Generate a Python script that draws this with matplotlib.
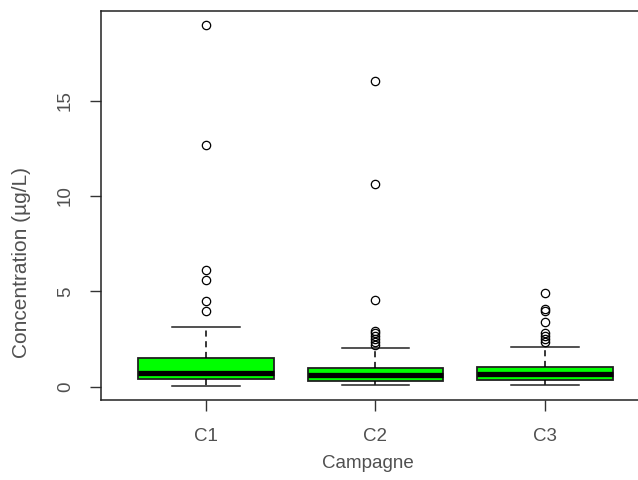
import matplotlib
matplotlib.use("Agg")
import matplotlib.pyplot as plt

# ======================
# DATA
# ======================
campagnes = ["C1", "C2", "C3"]
whis_lo = [0.04, 0.09, 0.09]
q1 = [0.42, 0.30, 0.37]
medians = [0.74, 0.62, 0.65]
q3 = [1.49, 1.00, 1.05]
whis_hi = [3.11, 2.02, 2.07]
outliers_c1 = [18.95, 12.67, 6.13, 5.58, 4.49, 3.97]
outliers_c2 = [16.05, 10.62, 4.55, 2.93, 2.84, 2.67, 2.49, 2.32, 2.18]
outliers_c3 = [4.93, 4.05, 3.95, 3.37, 2.84, 2.67, 2.49, 2.32]
outliers = [outliers_c1, outliers_c2, outliers_c3]
y_ticks = [0, 5, 10, 15]

TEXT_COLOR = "#505050"
plt.rcParams["font.family"] = ["Liberation Sans", "DejaVu Sans"]

stats = []
for i, name in enumerate(campagnes):
    stats.append({
        "label": name,
        "whislo": whis_lo[i],
        "q1": q1[i],
        "med": medians[i],
        "q3": q3[i],
        "whishi": whis_hi[i],
        "fliers": outliers[i],
    })

fig = plt.figure(figsize=(6.38, 4.80), dpi=100)
# axes runs a bit past the right edge, like the source image
ax = fig.add_axes([100.5 / 638, 1 - 400.3 / 480, 550 / 638, 389.3 / 480])

positions = [1, 2, 3]
ax.bxp(
    stats,
    positions=positions,
    widths=0.8,
    capwidths=0.4,
    patch_artist=True,
    boxprops=dict(facecolor="#00ff00", edgecolor="#202020", linewidth=1.3),
    medianprops=dict(color="black", linewidth=3.8, solid_capstyle="butt"),
    whiskerprops=dict(color="black", linewidth=1.1, linestyle=(0, (4, 3))),
    capprops=dict(color="#222222", linewidth=1.1),
    flierprops=dict(marker="o", markerfacecolor="none", markeredgecolor="black",
                    markersize=6, markeredgewidth=0.9),
)

# R style 4% padding around the data range
all_vals = whis_lo + whis_hi + [v for o in outliers for v in o]
lo, hi = min(all_vals), max(all_vals)
pad = 0.04 * (hi - lo)
ax.set_ylim(lo - pad, hi + pad)
ax.set_xlim(0.5 - 0.12, 3.5 + 0.12)

ax.set_yticks(y_ticks)
ax.set_yticklabels([str(t) for t in y_ticks])
ax.set_xticks(positions)
ax.set_xticklabels(campagnes)

ax.tick_params(axis="both", length=8, width=1, color="#333333",
               labelsize=13.5, labelcolor=TEXT_COLOR)
ax.tick_params(axis="y", labelrotation=90, pad=11)
ax.tick_params(axis="x", pad=12)
for lab in ax.get_yticklabels():
    lab.set_va("center")

for sp in ax.spines.values():
    sp.set_color("#222222")
    sp.set_linewidth(1.1)

fig.text(368 / 638, 1 - 463 / 480, "Campagne", ha="center", va="center",
         fontsize=13.5, color=TEXT_COLOR)
fig.text(22 / 638, 1 - 262 / 480, "Concentration (µg/L)", ha="center",
         va="center", rotation=90, fontsize=15, color=TEXT_COLOR)

fig.savefig("out.png", dpi=100, facecolor="white")
